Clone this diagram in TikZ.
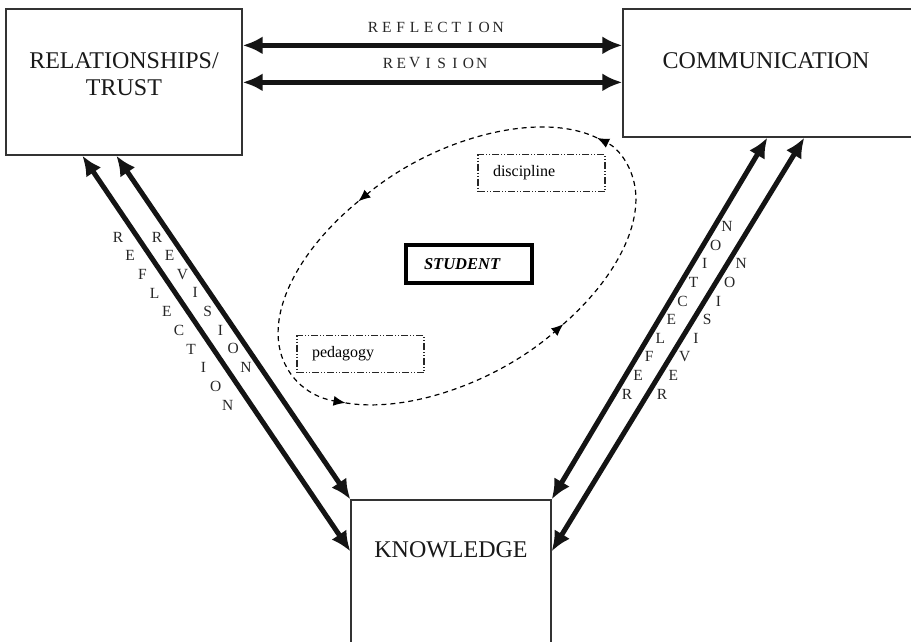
\documentclass[tikz,border=0pt]{standalone}
\usepackage{fontspec}
\setmainfont{Liberation Serif}
\usepackage{tikz}
\usetikzlibrary{arrows.meta}
\usetikzlibrary{calc}
\usetikzlibrary{positioning}

\begin{document}
\begin{tikzpicture}[x=1pt,y=-1pt,
    bigbox/.style={draw=black!80, line width=1.3pt, inner sep=0pt},
    bigtext/.style={font=\fontsize{24}{27}\selectfont, align=center, text=black!90},
    smallbox/.style={draw=black!85, line width=1.1pt,
      dash pattern=on 7pt off 2pt on 1pt off 2pt on 1pt off 2pt,
      minimum width=127pt, minimum height=37pt, text width=97pt,
      inner xsep=15pt, align=left, font=\fontsize{16}{18}\selectfont},
    lettr/.style={font=\fontsize{15.5}{15.5}\selectfont, inner sep=0pt, text=black!85},
    biarrow/.style={line width=5pt, black!92,
      {Latex[length=20pt,width=18pt]}-{Latex[length=20pt,width=18pt]}},
    loopline/.style={line width=1.2pt, dash pattern=on 5pt off 4pt,
      -{Latex[length=12pt,width=10pt]}}]
      \useasboundingbox (0,0) rectangle (911,641);

      % boxes
      \node[bigbox, minimum width=236pt, minimum height=146pt] (rel) at (124,82) {};
      \node[bigbox, minimum width=297pt, minimum height=128pt] (com) at (771.5,73) {};
      \node[bigbox, minimum width=200pt, minimum height=160pt] (know) at (451,580) {};
      \node[bigtext] (reltxt) at (124,74.5) {RELATIONSHIPS/\\TRUST};
      \node[bigtext] (comtxt) at (766,61) {COMMUNICATION};
      \node[bigtext] (knowtxt) at (451,550) {KNOWLEDGE};

      % student in the middle
      \node[draw, line width=3.5pt, minimum width=126pt, minimum height=38pt,
        text width=90pt, inner xsep=18pt, align=left,
        font=\fontsize{16.5}{18}\selectfont\bfseries\itshape] (student) at (469,264) {STUDENT};
      \node[smallbox] (disc) at (541.5,173) {discipline};
      \node[smallbox] (peda) at (360.5,354) {pedagogy};

      % loop round the student
      \begin{scope}[shift={(457,266)}, rotate=31]
        \draw[loopline] (-20:198 and 110) arc[start angle=-20, end angle=-105, x radius=198, y radius=110];
        \draw[loopline] (-105:198 and 110) arc[start angle=-105, end angle=-213, x radius=198, y radius=110];
        \draw[loopline] (-213:198 and 110) arc[start angle=-213, end angle=-288, x radius=198, y radius=110];
        \draw[loopline] (-288:198 and 110) arc[start angle=-288, end angle=-380, x radius=198, y radius=110];
      \end{scope}

      % arrows between the boxes
      \draw[biarrow] ([yshift=-37pt]rel.north east) -- ([yshift=-37pt]com.north west);
      \draw[biarrow] ([yshift=-74pt]rel.north east) -- ([yshift=-74pt]com.north west);
      \draw[biarrow] ([xshift=77pt]rel.south west) -- ([yshift=-52pt]know.north west);
      \draw[biarrow] ([xshift=111pt]rel.south west) -- (know.north west);
      \draw[biarrow] ([xshift=145pt]com.south west) -- (know.north east);
      \draw[biarrow] ([xshift=182pt]com.south west) -- ([yshift=-52pt]know.north east);

      % spaced labels
      \foreach \c [count=\i from 0] in {R,E,F,L,E,C,T,I,O,N}
      \node[lettr] (trefl\i) at ({373+13.9*\i},27) {\c};
      \foreach \c [count=\i from 0] in {R,E,V,I,S,I,O,N}
      \node[lettr] (trevi\i) at ({388+13.4*\i},63) {\c};

      \foreach \c [count=\i from 0] in {R,E,F,L,E,C,T,I,O,N}
      \node[lettr] (lrefl\i) at ({118+12.2*\i},{237+18.7*\i}) {\c};
      \foreach \c [count=\i from 0] in {R,E,V,I,S,I,O,N}
      \node[lettr] (lrevi\i) at ({157+12.7*\i},{237+18.6*\i}) {\c};

      \foreach \c [count=\i from 0] in {R,E,F,L,E,C,T,I,O,N}
      \node[lettr] (rrefl\i) at ({627+11.1*\i},{394-18.6*\i}) {\c};
      \foreach \c [count=\i from 0] in {R,E,V,I,S,I,O,N}
      \node[lettr] (rrevi\i) at ({662+11.3*\i},{394-18.6*\i}) {\c};
    \end{tikzpicture}
\end{document}
